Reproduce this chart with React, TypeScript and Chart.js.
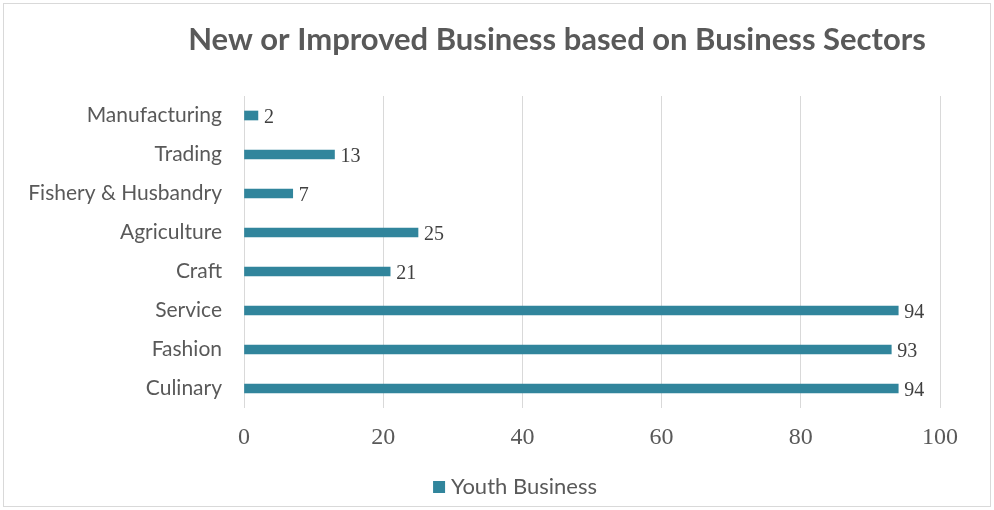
import React, { useEffect, useRef } from "react";
import { Chart, registerables } from "chart.js";

Chart.register(...registerables);

const TITLE = "New or Improved Business based on Business Sectors";
const SERIES_NAME = "Youth Business";
const CATEGORIES = [
  "Manufacturing",
  "Trading",
  "Fishery & Husbandry",
  "Agriculture",
  "Craft",
  "Service",
  "Fashion",
  "Culinary",
];
const VALUES = [2, 13, 7, 25, 21, 94, 93, 94];
const X_MIN = 0;
const X_MAX = 100;
const X_STEP = 20;

const BAR_COLOR = "#31859C";
const TEXT_COLOR = "#595959";
const LABEL_COLOR = "#404040";
const GRID_COLOR = "#D9D9D9";

const titlePlugin = {
  id: "customTitle",
  afterDraw(chart: any) {
    const ctx = chart.ctx;
    ctx.save();
    ctx.font = "bold 31px Lato";
    ctx.fillStyle = TEXT_COLOR;
    ctx.textAlign = "center";
    ctx.textBaseline = "middle";
    const cx = (chart.chartArea.left + chart.chartArea.right) / 2 - 35;
    ctx.fillText(TITLE, cx, 40);
    ctx.restore();
  },
};

const legendPlugin = {
  id: "customLegend",
  afterDraw(chart: any) {
    const ctx = chart.ctx;
    ctx.save();
    ctx.font = "22px Lato";
    const label = chart.data.datasets[0].label;
    const tw = ctx.measureText(label).width;
    const box = 12;
    const gap = 6;
    const total = box + gap + tw;
    const cx = (chart.chartArea.left + chart.chartArea.right) / 2 - 77;
    const x0 = cx - total / 2;
    const y = chart.height - 23;
    ctx.fillStyle = chart.data.datasets[0].backgroundColor;
    ctx.fillRect(x0, y - box / 2, box, box);
    ctx.fillStyle = TEXT_COLOR;
    ctx.textAlign = "left";
    ctx.textBaseline = "middle";
    ctx.fillText(label, x0 + box + gap, y);
    ctx.restore();
  },
};

const valueLabels = {
  id: "valueLabels",
  afterDatasetsDraw(chart: any) {
    const ctx = chart.ctx;
    const meta = chart.getDatasetMeta(0);
    ctx.save();
    ctx.font = "20px 'Liberation Serif'";
    ctx.fillStyle = LABEL_COLOR;
    ctx.textAlign = "left";
    ctx.textBaseline = "middle";
    meta.data.forEach((bar: any, i: number) => {
      ctx.fillText(String(VALUES[i]), bar.x + 6, bar.y + 2);
    });
    ctx.restore();
  },
};

export default function App() {
  const ref = useRef<HTMLCanvasElement | null>(null);
  useEffect(() => {
    if (!ref.current) return;
    const chart = new Chart(ref.current, {
      type: "bar",
      data: {
        labels: CATEGORIES,
        datasets: [
          {
            label: SERIES_NAME,
            data: VALUES,
            backgroundColor: BAR_COLOR,
            borderWidth: 0,
            barThickness: 9,
          },
        ],
      },
      options: {
        indexAxis: "y",
        responsive: false,
        animation: false,
        devicePixelRatio: 1,
        layout: { padding: { top: 96, left: 10, right: 54, bottom: 44 } },
        scales: {
          x: {
            min: X_MIN,
            max: X_MAX,
            ticks: {
              stepSize: X_STEP,
              color: TEXT_COLOR,
              font: { family: "'Liberation Serif'", size: 24 },
              padding: 15,
            },
            grid: { color: GRID_COLOR, drawTicks: false, lineWidth: 1 },
            border: { display: false },
            afterFit(scale: any) {
              scale.height = 58;
            },
          },
          y: {
            ticks: {
              color: TEXT_COLOR,
              font: { family: "Lato", size: 21 },
              padding: 22,
            },
            grid: { display: false, drawTicks: false },
            border: { display: false },
            afterFit(scale: any) {
              scale.width = 234;
            },
          },
        },
        plugins: {
          title: { display: false },
          tooltip: { enabled: false },
          legend: { display: false },
        },
      },
      plugins: [titlePlugin, valueLabels, legendPlugin],
    });
    return () => chart.destroy();
  }, []);

  return (
    <div
      style={{
        position: "absolute",
        left: 0,
        top: 0,
        width: 994,
        height: 510,
        background: "#fff",
      }}
    >
      <div
        style={{
          position: "absolute",
          left: 3,
          top: 3,
          width: 986,
          height: 502,
          border: "1px solid #D9D9D9",
        }}
      />
      <canvas
        ref={ref}
        width={994}
        height={510}
        style={{ position: "absolute", left: 0, top: 0 }}
      />
    </div>
  );
}
